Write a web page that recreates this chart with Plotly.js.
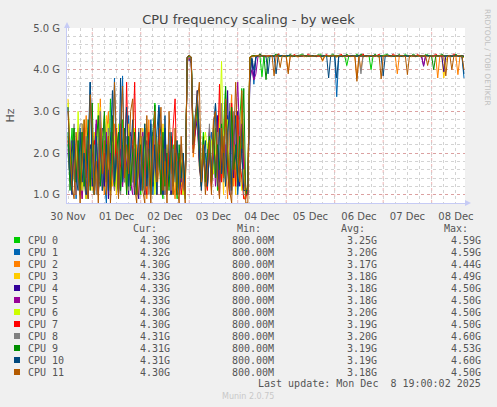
<!DOCTYPE html>
<html><head><meta charset="utf-8">
<script src="https://cdn.plot.ly/plotly-3.0.1.min.js"></script>
<style>html,body{margin:0;padding:0;background:#F0F0F0;}#chart{width:497px;height:407px;}</style>
</head><body><div id="chart"></div>
<script>
// ---- data (GHz), one sample per hour from 2025-11-30 12:00 ----
const startYear = 2025, startMonth = 10, startDay = 30, startHour = 12;
const stepHours = 1;
const cpuNames = ['CPU 0','CPU 1','CPU 2','CPU 3','CPU 4','CPU 5','CPU 6','CPU 7','CPU 8','CPU 9','CPU 10','CPU 11'];
const cpuColors = ['#00CC00','#0066B3','#FF8000','#FFCC00','#330099','#990099','#CCFF00','#FF0000','#808080','#008F00','#00487D','#B35A00'];

const cpu0 = [
 2.2,1.8,2.6,1.4,1.0,2.0,1.6,2.3,1.3,0.9, 2.0,1.7,2.4,1.2,1.9,1.0,2.2,1.5,1.1,2.5,
 1.4,3.3,1.8,1.2,2.5,1.6,1.0,2.8,1.9,1.4, 2.2,1.1,1.7,2.5,1.3,1.9,1.0,2.4,1.6,2.0,
 1.2,2.3,1.5,3.2,1.4,2.6,1.2,0.9,2.2,1.5, 1.8,1.0,2.2,1.5,0.9,1.9,1.3,1.6,0.9,4.25,
 4.30,4.25,2.4,2.6,3.0,1.8,1.5,2.5,1.2,2.0, 2.5,1.3,1.9,2.6,1.1,1.8,2.0,2.6,3.6,1.6,
 1.0,2.9,1.8,1.6,2.4,2.8,3.55,1.7,1.0,1.2,
 4.28,4.32,4.33,4.34,4.33,4.32,3.83,4.33,4.34,4.32, 4.33,4.34,4.32,4.33,4.37,4.33,4.32,4.34,4.33,4.32,
 4.33,4.34,4.32,4.33,4.33,4.36,4.32,4.33,4.34,4.33, 4.32,4.33,4.34,4.33,4.32,4.37,4.33,4.32,4.34,4.33,
 4.32,4.33,4.34,4.32,4.33,4.33,4.34,4.32,4.10,4.33, 4.34,4.32,4.33,4.37,4.33,4.32,4.34,4.33,4.32,4.33,
 4.00,4.33,4.32,4.34,4.33,4.32,4.33,4.36,4.32,4.33, 4.34,4.33,4.32,4.33,4.34,4.32,4.33,4.37,4.33,4.32,
 4.34,4.33,4.32,4.33,4.34,4.33,4.32,4.33,4.36,4.32, 4.33,4.34,4.32,4.33,4.33,4.34,4.32,4.33,4.34,4.33,
 4.32,4.33,4.34,4.32,4.33,4.33,4.30];
const cpu1 = [
 3.1,2.0,1.3,2.2,0.9,1.7,2.6,1.4,2.0,1.1, 1.6,3.7,2.1,1.2,2.3,1.0,1.8,2.5,1.3,0.8,
 2.6,1.5,2.0,3.8,1.4,1.1,2.4,3.85,1.6,1.2, 2.9,1.5,2.0,2.6,1.1,1.7,2.3,1.4,1.0,2.2,
 1.4,2.8,1.0,1.9,2.5,3.15,1.3,2.0,2.4,1.0, 2.5,1.3,1.0,2.2,1.6,1.3,2.0,1.0,1.1,4.28,
 4.32,4.30,2.3,2.9,3.2,2.6,1.4,1.8,2.0,1.2, 2.0,2.5,1.6,3.2,2.4,1.3,2.5,1.6,1.9,2.9,
 1.6,1.2,2.8,2.2,1.0,1.6,2.3,1.3,1.1,1.0,
 4.10,4.25,3.65,4.30,4.33,4.32,4.34,4.33,4.32,4.33, 4.34,4.33,4.32,4.33,4.34,4.32,4.33,4.33,4.34,4.32,
 4.33,4.34,4.32,4.33,4.33,4.34,4.32,4.33,4.34,4.33, 4.32,4.33,4.34,4.33,4.32,4.33,4.34,4.32,4.33,4.33,
 4.34,4.32,4.33,3.35,4.30,4.33,4.34,4.32,4.33,4.33, 4.34,4.32,4.33,4.34,4.33,4.32,4.33,4.34,4.32,4.33,
 4.33,4.34,4.32,4.33,4.34,4.33,4.32,4.33,4.34,4.32, 4.33,4.33,4.34,4.32,4.33,4.34,4.33,4.32,4.33,4.34,
 4.32,4.33,4.33,4.34,4.32,4.33,4.34,4.33,4.32,4.33, 4.34,4.32,4.33,4.33,4.34,4.32,4.33,4.34,4.33,4.32,
 4.33,4.34,4.32,4.33,4.33,4.30,3.80];
const cpu2 = [
 2.4,1.6,1.1,2.0,1.3,2.1,2.5,0.9,1.8,2.9, 1.2,2.2,1.6,1.5,2.0,1.1,3.3,1.6,1.0,2.4,
 3.0,1.3,2.2,2.7,1.0,1.8,2.3,1.4,2.6,1.1, 2.3,1.2,1.9,2.6,1.4,1.0,2.4,1.7,2.7,0.9,
 2.8,1.4,2.0,2.5,1.1,1.6,2.4,1.8,1.0,2.0, 1.2,2.1,1.4,0.9,2.0,1.6,1.2,1.9,1.1,4.22,
 4.28,4.20,1.9,2.4,3.4,2.2,1.1,2.2,1.5,1.3, 2.2,1.2,2.7,1.5,1.9,1.4,3.0,2.2,1.7,0.9,
 2.6,3.4,1.2,2.0,3.0,1.5,2.2,0.9,1.0,1.3,
 4.25,4.32,4.31,4.33,4.32,4.31,4.33,4.32,4.30,4.33, 4.32,4.31,4.33,4.32,4.31,4.33,4.32,4.31,4.33,3.95,
 4.32,4.31,4.33,4.32,4.30,4.33,4.32,4.31,4.33,4.32, 4.31,4.33,4.32,4.31,4.33,4.32,4.20,4.31,4.33,4.32,
 4.31,4.33,4.32,4.30,4.33,4.32,4.31,4.33,4.32,4.31, 4.33,4.32,4.31,3.80,4.32,4.00,4.33,4.32,4.31,4.33,
 4.32,4.31,4.33,4.32,4.30,4.33,4.32,4.31,4.33,4.32, 4.31,4.33,4.32,3.90,4.33,4.32,4.31,4.33,4.32,4.31,
 4.33,4.32,4.31,4.33,4.32,4.30,4.33,4.32,4.31,4.33, 4.32,4.31,4.33,3.80,4.31,4.33,4.32,4.31,4.33,4.32,
 4.31,4.33,4.32,3.88,4.32,4.31,4.30];
const cpu3 = [
 3.3,1.9,1.3,1.9,1.0,2.4,1.2,2.7,1.5,0.9, 2.4,1.6,1.1,2.5,1.4,1.0,3.1,1.2,2.0,2.9,
 1.6,2.5,1.2,2.2,1.0,2.5,1.3,2.0,2.6,1.0, 2.7,1.2,2.3,1.0,2.2,1.5,1.1,2.6,1.3,1.9,
 2.5,1.1,2.4,1.6,1.0,2.6,1.2,2.7,1.0,2.2, 1.4,2.3,1.0,1.6,2.2,1.1,1.4,1.0,1.3,4.25,
 4.30,4.25,2.0,2.7,3.1,1.6,1.3,2.4,1.5,1.2, 2.4,1.2,2.8,1.9,1.4,2.6,2.1,1.0,3.2,1.8,
 1.3,2.9,2.0,1.0,2.6,1.5,3.0,1.2,1.0,1.1,
 4.30,4.32,4.33,4.34,4.32,4.33,4.31,4.33,4.32,4.34, 4.33,4.32,4.33,4.31,4.34,4.33,4.32,4.33,4.34,4.32,
 4.33,4.31,4.33,4.32,4.34,4.33,4.32,4.33,4.31,4.33, 4.34,4.32,4.33,4.32,4.34,4.33,4.31,4.33,4.32,4.33,
 4.34,4.32,4.33,4.31,4.33,4.32,4.34,4.33,4.32,4.33, 4.31,4.33,4.34,4.32,4.33,4.32,4.34,4.33,4.31,4.33,
 4.32,4.33,4.34,4.32,4.33,4.31,4.33,4.32,4.34,4.33, 4.32,4.33,4.31,4.34,4.33,4.32,4.33,4.34,4.32,4.33,
 4.31,4.33,4.32,4.34,4.33,4.32,4.33,4.31,4.34,4.33, 4.32,4.33,4.32,4.34,4.33,4.31,3.80,4.20,4.33,4.32,
 4.34,4.33,4.32,4.33,4.31,4.33,4.33];
const cpu4 = [
 2.0,1.4,2.3,1.7,1.1,1.9,1.0,2.5,1.3,2.1, 0.9,2.2,1.2,2.0,2.7,1.1,1.6,2.6,1.2,2.4,
 0.9,1.8,2.5,1.4,2.0,1.0,2.1,1.2,2.3,1.6, 1.0,2.5,1.3,2.1,1.2,0.9,2.4,1.7,1.0,2.3,
 1.6,1.0,2.5,1.8,1.2,2.3,1.4,1.0,2.6,1.2, 2.1,1.0,1.5,2.0,1.1,1.3,2.2,1.2,1.0,4.20,
 4.25,4.15,2.2,2.5,2.8,1.7,1.2,2.0,1.4,1.8, 2.5,1.2,2.0,1.6,2.9,1.3,1.7,2.4,1.5,3.5,
 1.0,2.6,1.4,2.0,3.0,1.2,2.6,1.8,1.0,1.0,
 3.90,4.25,3.80,4.30,4.33,4.32,4.34,4.33,4.32,4.33, 4.34,4.32,4.33,4.33,4.34,4.32,4.33,4.34,4.33,4.32,
 4.33,4.34,4.32,4.33,4.33,4.34,4.32,4.33,4.34,4.33, 4.32,4.33,4.34,4.32,4.33,4.33,4.34,4.32,4.33,4.34,
 4.33,4.32,4.33,4.34,4.32,4.33,4.33,4.34,4.32,4.33, 4.34,4.33,4.32,4.33,4.34,4.32,4.33,4.33,4.34,4.32,
 4.33,4.34,4.33,4.32,4.33,4.34,4.32,4.33,4.33,4.34, 4.32,4.33,4.34,4.33,4.32,4.33,4.34,4.32,4.33,4.33,
 4.34,4.32,4.33,4.34,4.33,4.32,4.08,4.33,4.34,4.32, 4.33,4.33,4.34,4.32,4.33,4.34,3.95,4.32,4.33,4.33,
 4.34,4.32,4.33,4.34,4.33,4.32,4.33];
const cpu5 = [
 2.1,1.5,1.0,2.4,1.2,2.6,1.4,0.9,1.7,1.0, 2.3,1.3,2.0,1.5,2.8,1.0,2.7,1.1,1.7,2.5,
 1.3,2.0,1.6,1.1,2.4,1.0,2.7,1.2,2.0,1.6, 2.5,1.3,1.0,2.0,1.6,2.2,1.1,2.5,1.4,1.0,
 2.3,1.1,2.4,1.5,1.0,2.5,1.2,2.2,1.0,1.7, 2.0,1.1,1.6,2.2,1.0,1.8,1.3,2.0,1.1,4.25,
 4.30,4.20,2.0,2.6,2.9,1.8,1.3,2.1,1.6,1.2, 2.6,1.5,2.2,1.2,2.0,1.0,2.6,1.5,2.2,1.6,
 1.0,2.6,1.9,2.7,3.7,2.3,2.7,1.6,1.0,1.0,
 3.75,4.00,3.75,3.90,4.30,4.33,4.32,4.34,4.33,4.32, 4.33,4.34,4.32,4.33,4.33,4.34,4.32,4.33,4.34,4.33,
 4.32,4.33,4.34,4.32,4.33,4.33,4.34,4.32,4.33,4.34, 4.33,4.32,4.33,4.34,4.32,4.33,4.33,4.34,4.32,4.33,
 4.34,4.33,4.32,4.33,4.34,4.32,4.33,4.33,4.34,4.32, 4.33,4.34,4.33,4.32,4.33,4.34,4.32,4.33,4.33,4.34,
 4.32,4.33,4.34,4.33,4.32,4.33,4.34,4.32,4.33,4.33, 4.34,4.32,4.33,4.34,4.33,4.32,4.33,4.34,4.32,4.33,
 4.33,4.34,4.32,4.33,4.34,4.33,4.10,4.33,4.34,4.32, 4.33,4.33,4.34,4.32,4.33,4.34,4.33,4.32,4.33,4.34,
 4.32,4.33,4.33,4.34,4.32,4.33,4.33];
const cpu6 = [
 3.2,2.0,1.1,2.0,1.2,3.0,1.5,1.1,2.8,1.2, 2.0,1.5,2.3,1.0,1.8,3.2,1.3,2.4,2.8,1.4,
 2.7,1.0,2.2,2.4,1.1,2.7,1.2,2.0,2.4,1.0, 2.6,1.4,2.2,2.6,1.1,1.9,2.4,1.2,2.7,1.0,
 2.2,1.3,2.4,1.0,1.9,2.6,1.4,2.6,1.1,2.1, 1.2,2.4,1.1,1.7,2.3,1.2,2.0,1.0,1.2,4.28,
 4.32,4.30,2.4,2.7,3.0,2.1,1.5,2.2,2.5,2.1, 2.4,2.3,1.5,2.0,2.3,2.6,4.2,1.8,1.4,2.8,
 1.2,3.0,2.2,1.3,2.8,2.0,1.1,1.6,1.1,1.1,
 4.30,4.33,4.32,4.34,4.33,4.32,4.33,4.34,4.32,4.33, 4.33,4.34,4.32,4.33,4.34,4.33,4.32,4.33,4.34,4.32,
 4.33,4.33,4.34,4.32,4.33,4.34,4.33,4.32,4.33,4.34, 4.32,4.33,4.33,4.34,4.32,4.33,4.34,4.33,4.32,4.33,
 4.34,4.32,4.33,4.33,4.34,4.32,4.33,4.34,4.33,4.32, 4.33,4.34,4.32,4.33,4.33,4.34,4.32,4.33,4.34,4.33,
 4.32,4.33,4.34,4.32,4.33,4.33,4.34,4.32,4.33,4.34, 4.33,4.32,4.33,4.34,4.32,4.33,4.33,4.34,4.32,4.33,
 4.34,4.33,4.32,4.33,4.34,4.32,4.33,4.33,4.34,4.32, 4.33,4.34,4.33,4.32,4.33,4.34,4.32,4.33,4.33,4.34,
 4.32,4.33,4.34,4.33,4.32,4.33,4.30];
const cpu7 = [
 2.3,1.6,1.2,2.4,1.0,2.2,1.1,1.8,2.6,1.4, 2.2,1.2,1.9,2.3,1.1,1.6,2.9,1.2,2.0,1.5,
 2.3,1.1,2.0,1.4,2.6,1.2,1.8,2.2,1.3,3.7, 1.5,1.3,2.2,3.7,1.0,2.0,1.4,2.4,1.3,1.0,
 2.5,1.1,1.8,2.8,1.2,2.6,1.0,1.7,2.1,1.2, 2.0,1.5,2.6,3.3,1.2,2.0,1.0,1.4,1.0,4.30,
 4.35,4.28,2.1,2.6,3.5,2.0,1.2,2.2,1.4,1.1, 2.2,1.1,2.5,1.6,2.0,3.65,1.3,2.2,2.9,1.7,
 1.1,3.2,2.0,1.2,2.9,1.8,1.4,0.9,0.9,1.2,
 4.30,4.33,4.34,4.33,4.32,4.38,4.33,4.34,4.32,4.33, 4.34,4.33,4.32,4.33,4.38,4.34,4.33,4.32,4.33,4.34,
 4.33,4.32,4.37,4.33,4.34,4.32,4.33,4.34,4.33,4.38, 4.32,4.33,4.34,4.33,4.32,4.33,4.34,4.33,4.37,4.32,
 4.33,4.34,4.33,4.32,4.33,4.38,4.33,4.34,4.32,4.33, 4.34,4.33,4.32,4.33,4.34,4.33,4.38,4.32,4.33,4.34,
 4.33,4.32,4.33,4.34,4.37,4.33,4.32,4.33,4.34,4.33, 4.32,4.38,4.33,4.34,4.32,4.33,4.34,4.33,4.32,4.33,
 4.34,4.33,4.32,4.37,4.33,4.34,4.32,4.33,4.34,4.33, 4.32,4.33,4.38,4.33,4.34,4.32,4.33,4.34,4.33,4.32,
 4.33,4.38,4.34,4.32,4.33,4.34,4.30];
const cpu8 = [
 2.2,1.3,1.8,2.7,1.0,2.2,2.7,2.7,1.2,2.4, 1.1,2.1,1.4,2.2,1.0,2.0,3.0,1.1,2.9,1.2,
 2.6,1.3,2.2,1.1,2.0,2.4,1.0,2.6,1.3,2.4, 1.1,2.4,1.3,2.1,1.0,2.6,1.3,2.4,1.1,2.2,
 1.0,2.4,1.3,2.6,1.1,2.0,1.6,2.3,1.0,1.8, 2.4,1.1,2.1,1.3,1.8,1.0,2.2,1.2,1.0,4.28,
 4.30,4.25,2.3,2.9,3.3,2.0,1.3,2.3,1.2,1.6, 2.7,1.6,2.2,1.4,2.5,1.8,3.2,1.3,2.6,1.9,
 3.2,1.0,3.0,2.2,1.4,2.8,1.9,1.0,1.0,1.2,
 4.20,4.30,4.33,4.32,4.34,4.33,4.32,4.33,4.34,4.32, 4.33,4.33,4.34,4.32,4.33,4.34,4.33,4.32,4.33,4.34,
 4.32,4.33,4.33,4.34,4.32,4.33,4.34,4.33,4.32,4.33, 4.34,4.32,4.33,4.33,4.34,4.32,4.33,4.34,4.33,4.32,
 4.33,4.34,4.32,4.33,4.33,4.34,4.32,4.33,4.34,4.33, 4.32,4.33,4.34,4.32,4.33,3.90,4.30,4.33,4.34,4.32,
 4.33,4.33,4.34,4.32,4.33,4.34,4.33,4.32,4.33,4.34, 4.32,4.33,4.33,4.34,4.32,4.33,4.34,4.33,4.32,4.33,
 4.34,4.32,4.33,4.33,4.34,4.32,4.33,4.34,4.33,4.32, 4.33,4.34,4.32,4.33,4.33,4.34,4.32,4.33,4.34,4.33,
 4.32,4.33,4.34,4.32,4.33,4.33,4.31];
const cpu9 = [
 2.5,1.1,2.0,2.6,1.3,2.3,1.0,2.5,1.2,1.8, 2.8,1.1,3.2,1.0,2.2,2.9,1.2,2.0,3.0,1.3,
 2.4,1.1,2.9,1.2,2.0,2.5,1.1,2.2,2.6,1.0, 2.4,1.2,2.0,2.5,1.0,1.8,2.2,1.1,2.6,1.4,
 2.1,1.0,2.5,3.15,1.3,2.2,1.0,2.5,1.2,2.0, 1.1,2.4,1.3,2.0,1.0,2.2,1.4,2.0,1.1,4.30,
 4.33,4.30,2.2,2.7,3.2,1.9,1.2,2.4,1.3,1.9, 2.4,1.3,2.6,1.4,2.2,1.6,2.7,1.4,3.6,2.0,
 1.1,3.1,1.6,2.2,1.3,2.4,2.0,3.55,1.0,1.2,
 4.30,4.33,4.34,4.32,4.33,4.38,4.33,4.32,3.76,4.30, 4.33,4.34,4.32,4.38,4.33,4.32,4.34,4.33,4.32,4.33,
 4.37,4.33,4.32,4.34,4.33,4.32,4.38,4.33,4.34,4.32, 4.33,4.34,4.32,4.33,4.37,4.33,4.32,4.34,4.33,4.32,
 4.33,4.38,4.32,4.33,4.34,4.33,4.32,4.33,4.37,4.33, 4.32,4.34,4.33,4.32,4.33,4.38,4.33,4.32,4.34,4.33,
 4.32,4.33,4.37,4.33,4.32,4.34,4.33,4.32,4.38,4.33, 4.34,4.32,4.33,4.33,4.37,4.32,4.33,4.34,4.33,4.32,
 4.33,4.38,4.32,4.33,4.34,4.33,4.32,4.37,4.33,4.34, 4.32,4.00,4.33,4.34,4.33,4.38,4.32,4.33,4.34,4.33,
 4.32,4.33,4.37,4.33,4.32,4.34,4.31];
const cpu10 = [
 3.1,1.6,1.0,2.3,1.4,1.1,2.5,1.3,2.0,1.0, 2.2,3.7,1.4,1.0,2.4,1.2,2.5,1.1,1.6,2.2,
 1.1,2.5,3.5,1.3,2.0,1.0,3.8,1.3,2.2,3.1, 1.2,2.0,2.8,1.0,1.6,2.5,1.1,1.8,2.7,1.2,
 2.0,2.7,1.2,2.2,1.0,3.1,2.4,1.0,2.9,1.1, 1.5,2.5,1.2,1.8,2.3,1.0,1.4,2.0,1.0,4.30,
 4.35,4.30,2.2,2.8,3.5,2.1,1.1,1.9,2.3,1.2, 2.0,1.5,2.6,3.2,1.2,2.6,1.5,2.0,1.2,2.5,
 3.0,1.1,2.4,2.9,1.2,1.5,2.1,1.1,1.1,1.1,
 3.70,4.28,4.00,4.30,4.33,4.32,4.34,4.33,4.32,3.90, 4.33,4.34,4.32,3.90,4.33,4.33,4.34,4.32,4.33,4.34,
 4.33,4.32,4.33,4.34,4.32,4.33,4.33,4.34,4.32,4.33, 4.34,4.33,4.32,4.33,4.34,4.32,4.33,4.33,4.34,3.80,
 4.32,4.33,4.34,3.80,4.33,4.32,4.33,4.34,4.33,4.32, 4.33,4.34,4.32,4.33,4.33,4.34,4.32,4.33,4.34,4.33,
 4.32,4.33,4.33,4.34,4.32,4.33,3.85,4.32,4.33,4.34, 4.33,4.32,4.33,4.34,4.32,4.33,4.33,4.34,4.32,4.33,
 4.34,4.33,4.32,4.33,4.34,4.32,4.33,4.33,4.34,4.32, 4.33,4.34,4.33,4.32,4.33,4.34,4.32,4.33,4.33,4.34,
 4.32,4.33,4.34,4.33,4.32,4.33,3.90];
const cpu11 = [
 3.0,2.2,1.2,0.9,2.5,1.6,0.8,1.9,2.8,1.3, 0.9,3.4,2.6,1.0,1.8,0.8,2.6,1.5,2.3,1.0,
 2.4,0.8,1.7,3.7,2.0,0.9,2.5,3.6,1.4,2.2, 1.5,3.0,3.3,1.2,0.8,2.0,2.6,1.1,0.8,2.9,
 1.6,0.8,2.2,3.0,1.3,2.4,3.1,1.1,1.8,0.8, 3.0,2.0,1.0,2.6,1.2,0.8,2.4,1.5,0.8,4.30,
 4.35,4.30,2.0,2.8,3.2,3.7,1.3,2.2,1.0,1.6, 2.3,1.0,2.8,3.0,1.4,0.9,2.6,1.4,3.3,2.0,
 1.1,0.8,2.5,3.7,1.9,1.3,3.5,2.0,0.8,0.8,
 4.30,4.33,4.32,4.33,4.34,4.32,4.33,4.34,4.33,4.32, 4.33,4.34,3.85,4.32,4.33,4.05,4.33,4.34,4.32,3.90,
 4.33,4.32,4.34,4.33,4.32,4.33,4.34,4.33,4.32,4.33, 4.34,4.32,4.33,4.33,4.34,4.32,4.22,4.33,4.34,4.32,
 4.33,4.33,4.34,4.32,4.33,4.34,4.33,4.32,4.33,4.34, 4.32,4.33,4.33,3.72,4.32,4.33,4.34,4.32,4.33,4.33,
 4.34,4.32,4.33,4.34,4.33,3.78,4.32,4.33,4.34,4.32, 4.33,4.33,4.34,4.32,4.33,4.34,4.33,4.32,3.88,4.33,
 4.34,4.32,4.33,4.33,4.34,4.32,4.33,4.34,4.10,4.32, 4.33,4.34,4.32,4.33,4.33,4.34,4.32,3.85,4.33,4.34,
 4.00,4.33,4.32,4.34,4.33,4.32,4.00];
const cpuSeries = [cpu0,cpu1,cpu2,cpu3,cpu4,cpu5,cpu6,cpu7,cpu8,cpu9,cpu10,cpu11];

// legend statistics
const curValues = [4.30,4.32,4.30,4.33,4.33,4.33,4.30,4.30,4.31,4.31,4.31,4.30];
const minValues = [800,800,800,800,800,800,800,800,800,800,800,800];
const avgValues = [3.25,3.20,3.17,3.18,3.18,3.18,3.20,3.19,3.20,3.19,3.19,3.18];
const maxValues = [4.59,4.59,4.44,4.49,4.50,4.50,4.50,4.50,4.60,4.53,4.60,4.50];

// axis labels
const dayLabels = ['30 Nov','01 Dec','02 Dec','03 Dec','04 Dec','05 Dec','06 Dec','07 Dec','08 Dec'];
const dayLabelTimes = ['2025-11-30 12:00','2025-12-01 12:00','2025-12-02 12:00','2025-12-03 12:00','2025-12-04 12:00','2025-12-05 12:00','2025-12-06 12:00','2025-12-07 12:00','2025-12-08 12:00'];
const midnightTimes = ['2025-12-01','2025-12-02','2025-12-03','2025-12-04','2025-12-05','2025-12-06','2025-12-07','2025-12-08'];
const yTickValues = [1,2,3,4,5];
const yTickLabels = ['1.0 G','2.0 G','3.0 G','4.0 G','5.0 G'];
const xRange = ['2025-11-30 11:30','2025-12-08 16:30'];
const yRange = [0.8,5.0];

// ---- build ----
function timeAt(i){
  const ms = Date.UTC(startYear,startMonth,startDay,startHour) + i*stepHours*3600000;
  return new Date(ms).toISOString().slice(0,19).replace('T',' ');
}
const traces = cpuSeries.map((vals,k)=>({
  type:'scatter', mode:'lines', name:cpuNames[k],
  x: vals.map((v,i)=>timeAt(i)), y: vals,
  line:{color:cpuColors[k], width:1}, hoverinfo:'skip', showlegend:false
}));

const L=67, R=32, T=28, B=204, W=497, H=407;
const pw = W-L-R, ph = H-T-B;
const px = x => (x-L)/pw;
const py = y => (H-B-y)/ph;

const txt = '#555555';
const mono = 'DejaVu Sans Mono';
const annotations = [];
const shapes = [];

midnightTimes.forEach(t=>shapes.push({type:'line', xref:'x', yref:'paper', x0:t, x1:t, y0:0, y1:1,
  line:{color:'rgba(225,120,120,0.55)', width:1, dash:'dot'}, layer:'between'}));

// axis arrows
shapes.push({type:'path', xref:'paper', yref:'paper',
  path:`M ${px(465)} ${py(200)} L ${px(471)} ${py(203)} L ${px(465)} ${py(206)} Z`,
  fillcolor:'#c6cbf5', line:{width:0}});
shapes.push({type:'path', xref:'paper', yref:'paper',
  path:`M ${px(64)} ${py(28)} L ${px(67)} ${py(22)} L ${px(70)} ${py(28)} Z`,
  fillcolor:'#c6cbf5', line:{width:0}});

// legend headers
[['Cur:',159],['Min:',263],['Avg:',367],['Max:',470]].forEach(([t,x])=>annotations.push({
  text:t, xref:'paper', yref:'paper', x:px(x), y:py(228), xanchor:'right', yanchor:'middle', showarrow:false,
  font:{family:mono, size:10, color:txt}}));

cpuNames.forEach((n,k)=>{
  const yy = 240 + 12*k;
  shapes.push({type:'rect', xref:'paper', yref:'paper', x0:px(14), x1:px(20), y0:py(yy+3), y1:py(yy-3),
    fillcolor:cpuColors[k], line:{width:0}});
  annotations.push({text:n, xref:'paper', yref:'paper', x:px(26), y:py(yy), xanchor:'left', yanchor:'middle',
    showarrow:false, font:{family:mono, size:10, color:txt}});
  const cols = [[curValues[k].toFixed(2)+'G',172],[minValues[k].toFixed(2)+'M',276],
                [avgValues[k].toFixed(2)+'G',379],[maxValues[k].toFixed(2)+'G',483]];
  cols.forEach(([t,x])=>annotations.push({text:t, xref:'paper', yref:'paper', x:px(x), y:py(yy),
    xanchor:'right', yanchor:'middle', showarrow:false, font:{family:mono, size:10, color:txt}}));
});
annotations.push({text:'Last update: Mon Dec  8 19:00:02 2025'.replace(/  /g,' &nbsp;'), xref:'paper', yref:'paper',
  x:px(483), y:py(383.5), xanchor:'right', yanchor:'middle', showarrow:false, font:{family:mono, size:10, color:txt}});
annotations.push({text:'Munin 2.0.75', xref:'paper', yref:'paper', x:px(248), y:py(396), xanchor:'center', yanchor:'middle',
  showarrow:false, font:{family:'DejaVu Sans', size:8, color:'#c8c8c8'}});
annotations.push({text:'RRDTOOL / TOBI OETIKER', xref:'paper', yref:'paper', x:px(487), y:py(58), xanchor:'center', yanchor:'middle',
  textangle:90, showarrow:false, font:{family:'DejaVu Sans', size:7.5, color:'#c0c0c0'}});

const layout = {
  width:W, height:H, margin:{l:L, r:R, t:T, b:B},
  paper_bgcolor:'#F0F0F0', plot_bgcolor:'#FFFFFF',
  title:{text:'CPU frequency scaling - by week', font:{family:'DejaVu Sans', size:13, color:'#444444'},
    xref:'container', x:0.5, xanchor:'center', yref:'container', y:1-19/H, yanchor:'middle'},
  xaxis:{type:'date', range:xRange, tickmode:'array', tickvals:dayLabelTimes, ticktext:dayLabels,
    showgrid:false, zeroline:false, showline:true, linecolor:'#c6cbf5', linewidth:1, ticks:'',
    ticklabelstandoff:4, tickfont:{family:'DejaVu Sans', size:10, color:txt},
    minor:{tickmode:'linear', tick0:'2025-11-30 00:00', dtick:6*3600000, showgrid:true,
      gridcolor:'rgba(200,200,200,0.8)', griddash:'dot', gridwidth:1}},
  yaxis:{range:yRange, tickmode:'array', tickvals:yTickValues, ticktext:yTickLabels,
    showgrid:true, gridcolor:'rgba(225,120,120,0.55)', griddash:'dot', gridwidth:1,
    zeroline:false, showline:true, linecolor:'#c6cbf5', linewidth:1, ticks:'', ticklabelstandoff:4,
    tickfont:{family:'DejaVu Sans', size:10, color:txt},
    title:{text:'Hz', font:{family:'DejaVu Sans', size:11, color:txt}, standoff:16},
    minor:{tickmode:'linear', tick0:0, dtick:0.2, showgrid:true, gridcolor:'rgba(200,200,200,0.8)', griddash:'dot', gridwidth:1}},
  shapes:shapes, annotations:annotations
};
Plotly.newPlot('chart', traces, layout, {displayModeBar:false, staticPlot:true});
</script>
</body></html>
